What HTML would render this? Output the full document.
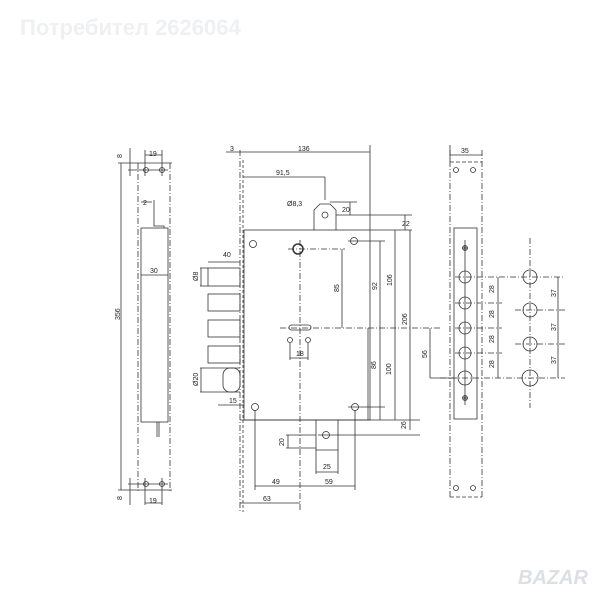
<!DOCTYPE html>
<html><head><meta charset="utf-8"><style>
html,body{margin:0;padding:0;background:#fff;width:600px;height:600px;overflow:hidden}
svg{display:block}
text{font-family:"Liberation Sans",sans-serif;font-size:7px;fill:#222}
</style></head><body>
<svg width="600" height="600" viewBox="0 0 600 600" xmlns="http://www.w3.org/2000/svg">
<text x="20" y="35" style="font-size:22px;font-weight:bold;fill:#eef0f2">Потребител 2626064</text>
<text x="518" y="584" style="font-size:20px;font-weight:bold;fill:#dde0e3;font-style:italic">BAZAR</text>
<g stroke="#333" stroke-width="0.8" fill="none">
<line x1="121" y1="163" x2="121" y2="490"/>
<line x1="138" y1="163" x2="138" y2="492" stroke-dasharray="6,2,1,2"/>
<line x1="170" y1="163" x2="170" y2="492" stroke-dasharray="6,2,1,2"/>
<line x1="118" y1="163" x2="172" y2="163"/>
<line x1="118" y1="490" x2="172" y2="490"/>
<rect x="141" y="228" width="27" height="194"/>
<path d="M154 200 V226 H164 V228"/>
<line x1="157" y1="422" x2="157" y2="437"/><line x1="159" y1="422" x2="159" y2="437"/>
<circle cx="146" cy="170" r="2.5"/><circle cx="162" cy="170" r="2.5"/>
<circle cx="146" cy="484" r="2.5"/><circle cx="162" cy="484" r="2.5"/>
<line x1="128" y1="170" x2="168" y2="170"/><line x1="128" y1="484" x2="168" y2="484"/>
<line x1="130" y1="148" x2="130" y2="176"/><line x1="145" y1="150" x2="145" y2="176"/><line x1="162" y1="150" x2="162" y2="176"/>
<line x1="145" y1="155" x2="162" y2="155"/>
<line x1="130" y1="478" x2="130" y2="505"/><line x1="145" y1="478" x2="145" y2="505"/><line x1="162" y1="478" x2="162" y2="505"/>
<line x1="145" y1="503" x2="162" y2="503"/>
<line x1="141" y1="275" x2="168" y2="275"/>
<line x1="141" y1="202" x2="152" y2="202"/>
<line x1="240" y1="150" x2="240" y2="512" stroke-dasharray="6,2,1,2"/>
<line x1="243" y1="160" x2="243" y2="512" stroke-dasharray="3,2"/>
<rect x="244" y="230" width="126" height="190"/>
<line x1="226" y1="152" x2="370" y2="152"/>
<line x1="370" y1="145" x2="370" y2="230"/>
<line x1="243" y1="177" x2="325" y2="177"/>
<line x1="325" y1="177" x2="325" y2="200"/>
<path d="M314 230 V210 L320 204 H330 L336 210 V230"/>
<circle cx="325" cy="215" r="3"/>
<line x1="330" y1="202" x2="357" y2="202"/><line x1="336" y1="215" x2="412" y2="215"/>
<line x1="350" y1="202" x2="350" y2="215"/>
<line x1="370" y1="230" x2="412" y2="230"/>
<line x1="405" y1="215" x2="405" y2="230"/>
<line x1="208" y1="262" x2="240" y2="262"/>
<rect x="208" y="268" width="32" height="18"/>
<line x1="200" y1="268" x2="208" y2="268"/><line x1="200" y1="286" x2="208" y2="286"/><line x1="201" y1="268" x2="201" y2="286"/>
<rect x="208" y="294" width="32" height="17"/>
<rect x="208" y="320" width="32" height="17"/>
<rect x="208" y="346" width="32" height="17"/>
<rect x="223" y="368" width="17" height="24" rx="7"/>
<line x1="200" y1="368" x2="240" y2="368"/><line x1="200" y1="392" x2="240" y2="392"/><line x1="201" y1="368" x2="201" y2="392"/>
<line x1="218" y1="405" x2="244" y2="405"/>
<circle cx="253" cy="244" r="3.5"/>
<circle cx="298" cy="249" r="5" stroke-width="1.5"/>
<circle cx="354" cy="241" r="3.5"/>
<circle cx="255" cy="407" r="3.5"/>
<circle cx="355" cy="407" r="3.5"/>
<line x1="300" y1="240" x2="300" y2="512" stroke-dasharray="6,2,1,2"/>
<line x1="288" y1="249" x2="345" y2="249" stroke-dasharray="6,2,1,2"/>
<line x1="342" y1="249" x2="342" y2="328"/>
<line x1="348" y1="241" x2="385" y2="241"/>
<line x1="380" y1="241" x2="380" y2="420"/>
<line x1="395" y1="230" x2="395" y2="420"/>
<line x1="410" y1="230" x2="410" y2="430"/>
<rect x="289" y="325" width="22" height="5" rx="2.5"/>
<line x1="280" y1="328" x2="440" y2="328" stroke-dasharray="6,2,1,2"/>
<circle cx="290" cy="340" r="2.5"/><circle cx="308" cy="340" r="2.5"/>
<line x1="290" y1="343" x2="290" y2="360"/><line x1="308" y1="343" x2="308" y2="360"/><line x1="290" y1="358" x2="308" y2="358"/>
<line x1="368" y1="328" x2="368" y2="420"/>
<line x1="348" y1="407" x2="385" y2="407"/>
<line x1="240" y1="420" x2="420" y2="420"/>
<line x1="318" y1="435" x2="420" y2="435"/>
<line x1="430" y1="328" x2="430" y2="378"/>
<line x1="430" y1="378" x2="455" y2="378"/>
<path d="M316 420 V450 H338 V420"/>
<circle cx="326" cy="435" r="3.5"/>
<line x1="286" y1="435" x2="316" y2="435"/><line x1="286" y1="448" x2="316" y2="448"/><line x1="288" y1="435" x2="288" y2="448"/>
<line x1="316" y1="450" x2="316" y2="474"/><line x1="338" y1="450" x2="338" y2="474"/><line x1="316" y1="472" x2="338" y2="472"/>
<line x1="255" y1="410" x2="255" y2="490"/><line x1="355" y1="410" x2="355" y2="490"/>
<line x1="255" y1="486" x2="355" y2="486"/>
<line x1="240" y1="503" x2="300" y2="503"/>
<line x1="450" y1="150" x2="450" y2="497" stroke-dasharray="6,2,1,2"/>
<line x1="482" y1="150" x2="482" y2="497" stroke-dasharray="6,2,1,2"/>
<line x1="450" y1="145" x2="450" y2="162"/>
<line x1="450" y1="155" x2="482" y2="155"/>
<line x1="450" y1="162" x2="482" y2="162" stroke-dasharray="4,2"/>
<line x1="450" y1="497" x2="482" y2="497" stroke-dasharray="4,2"/>
<circle cx="456" cy="170" r="2.5"/><circle cx="473" cy="170" r="2.5"/>
<circle cx="456" cy="488" r="2.5"/><circle cx="473" cy="488" r="2.5"/>
<rect x="454" y="228" width="23" height="191"/>
<circle cx="465" cy="248" r="2.5"/><circle cx="465" cy="248" r="1.2"/>
<circle cx="465" cy="277" r="6"/><circle cx="465" cy="303" r="6"/><circle cx="465" cy="328" r="6"/><circle cx="465" cy="353" r="6"/><circle cx="465" cy="378" r="7"/>
<circle cx="465" cy="398" r="2.5"/><circle cx="465" cy="398" r="1.2"/>
<line x1="465" y1="240" x2="465" y2="405"/>
<line x1="455" y1="277" x2="565" y2="277" stroke-dasharray="6,2,1,2"/>
<line x1="455" y1="303" x2="502" y2="303" stroke-dasharray="6,2,1,2"/>
<line x1="455" y1="328" x2="502" y2="328" stroke-dasharray="6,2,1,2"/>
<line x1="455" y1="353" x2="502" y2="353" stroke-dasharray="6,2,1,2"/>
<line x1="440" y1="378" x2="565" y2="378" stroke-dasharray="6,2,1,2"/>
<line x1="498" y1="277" x2="498" y2="378"/>
<circle cx="530" cy="277" r="7"/><circle cx="530" cy="310" r="7"/><circle cx="530" cy="344" r="7"/><circle cx="530" cy="378" r="8"/>
<line x1="530" y1="238" x2="530" y2="408" stroke-dasharray="6,2,1,2"/>
<line x1="515" y1="310" x2="565" y2="310" stroke-dasharray="6,2,1,2"/>
<line x1="515" y1="344" x2="565" y2="344" stroke-dasharray="6,2,1,2"/>
<line x1="558" y1="277" x2="558" y2="378"/>
</g>
<g>
<text x="122" y="158" transform="rotate(-90 122 158)">8</text>
<text x="149" y="156">19</text>
<text x="143" y="205">2</text>
<text x="150" y="273">30</text>
<text x="120" y="320" transform="rotate(-90 120 320)">356</text>
<text x="122" y="500" transform="rotate(-90 122 500)">8</text>
<text x="149" y="503">19</text>
<text x="230" y="151">3</text>
<text x="298" y="151">136</text>
<text x="276" y="175">91,5</text>
<text x="287" y="206">Ø8,3</text>
<text x="342" y="212">20</text>
<text x="402" y="226">22</text>
<text x="223" y="257">40</text>
<text x="198" y="281" transform="rotate(-90 198 281)">Ø8</text>
<text x="339" y="292" transform="rotate(-90 339 292)">85</text>
<text x="377" y="290" transform="rotate(-90 377 290)">92</text>
<text x="392" y="286" transform="rotate(-90 392 286)">106</text>
<text x="407" y="325" transform="rotate(-90 407 325)">206</text>
<text x="427" y="358" transform="rotate(-90 427 358)">56</text>
<text x="296" y="356">18</text>
<text x="376" y="369" transform="rotate(-90 376 369)">86</text>
<text x="391" y="375" transform="rotate(-90 391 375)">100</text>
<text x="198" y="386" transform="rotate(-90 198 386)">Ø20</text>
<text x="229" y="403">15</text>
<text x="406" y="429" transform="rotate(-90 406 429)">26</text>
<text x="284" y="446" transform="rotate(-90 284 446)">20</text>
<text x="323" y="469">25</text>
<text x="272" y="484">49</text>
<text x="325" y="484">59</text>
<text x="263" y="501">63</text>
<text x="461" y="153">35</text>
<text x="494" y="293" transform="rotate(-90 494 293)">28</text>
<text x="494" y="318" transform="rotate(-90 494 318)">28</text>
<text x="494" y="343" transform="rotate(-90 494 343)">28</text>
<text x="494" y="368" transform="rotate(-90 494 368)">28</text>
<text x="556" y="297" transform="rotate(-90 556 297)">37</text>
<text x="556" y="331" transform="rotate(-90 556 331)">37</text>
<text x="556" y="364" transform="rotate(-90 556 364)">37</text>
</g>
</svg>
</body></html>
